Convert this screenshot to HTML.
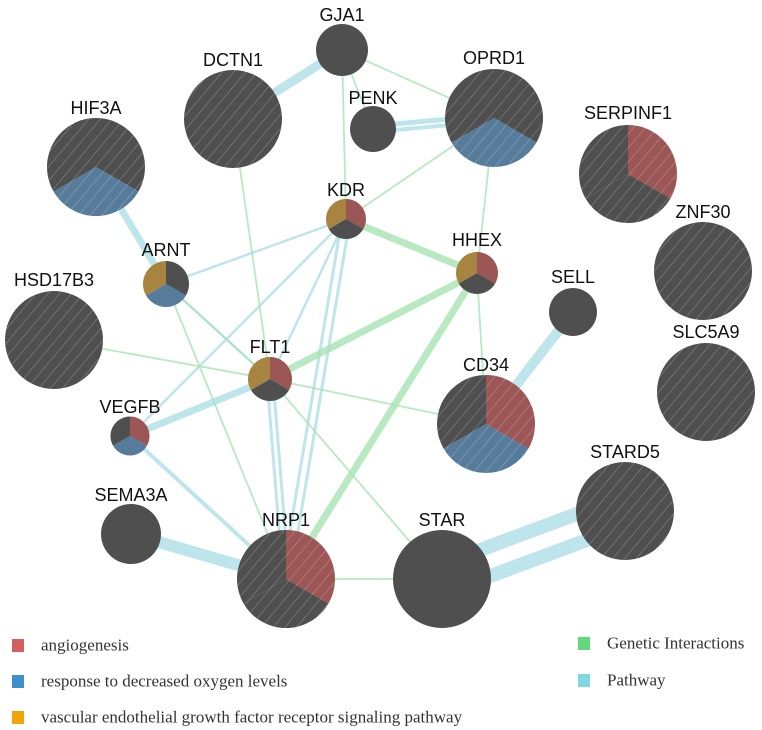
<!DOCTYPE html>
<html><head><meta charset="utf-8"><style>
html,body{margin:0;padding:0;background:#fff;width:762px;height:730px;overflow:hidden}
svg{display:block}
.lbl{font-family:"Liberation Sans",sans-serif;font-size:18px;fill:#111;text-anchor:middle;dominant-baseline:central}
.leg{font-family:"Liberation Serif",serif;font-size:17px;fill:#333;dominant-baseline:central}
</style></head><body>
<svg id="net" width="762" height="730" viewBox="0 0 762 730">
<defs>
<pattern id="hatch" patternUnits="userSpaceOnUse" width="9" height="9" patternTransform="rotate(40)">
<line x1="0" y1="0" x2="0" y2="9" stroke="rgba(255,255,255,0.25)" stroke-width="1.5"/>
</pattern>
</defs>
<g id="edges"></g>
<g id="nodes"></g>
<g id="legend"></g>
</svg>
<script>
const nodeNames=["GJA1","DCTN1","PENK","OPRD1","HIF3A","SERPINF1","KDR","HHEX","ARNT","SELL","ZNF30","HSD17B3","SLC5A9","FLT1","VEGFB","CD34","STARD5","SEMA3A","NRP1","STAR"];
const nodeX=[342,233,373,494,96,628,346,477,166,573,703,54,706,270,130,486,625,131,286,442];
const nodeY=[50,119,129,118,167,174,219,273,284,312,271,340,392,379,436,424,511,534,579,579];
const nodeR=[26,49,23,49,49,49,20,21,23,24,49,49,49,22,19.5,49,49,30,49,49];
const labelY=[15,60,98,58,108,113,190,240,250,277,212,280,332,347,407,365,452,495,520,520];
const hatched=[0,1,0,1,1,1,0,0,0,0,1,1,1,0,0,1,1,0,1,0];
const slices=["ddd","ddd","ddd","dbd","dbd","rdd","rdg","rdg","dbg","ddd","ddd","ddd","ddd","rdg","rbd","rbd","ddd","ddd","rdd","ddd"];
const edgeFrom=["GJA1","PENK","PENK","HIF3A","ARNT","ARNT","KDR","KDR","KDR","KDR","FLT1","FLT1","FLT1","VEGFB","SEMA3A","SELL","STAR","STAR",
 "GJA1","GJA1","GJA1","DCTN1","OPRD1","OPRD1","KDR","HHEX","HHEX","HHEX","ARNT","ARNT","HSD17B3","FLT1","FLT1","NRP1"];
const edgeTo=["DCTN1","OPRD1","OPRD1","ARNT","KDR","FLT1","VEGFB","NRP1","NRP1","FLT1","VEGFB","NRP1","NRP1","NRP1","NRP1","CD34","STARD5","STARD5",
 "KDR","OPRD1","PENK","FLT1","KDR","HHEX","HHEX","FLT1","NRP1","CD34","FLT1","NRP1","FLT1","STAR","CD34","STAR"];
const edgeType=["p","p","p","p","p","p","p","p","p","p","p","p","p","p","p","p","p","p",
 "g","g","g","g","g","g","g","g","g","g","g","g","g","g","g","g"];
const edgeW=[9,5,4,7,2.5,2.5,2.5,3,3,2.5,7,3,3,4,12,10,14,14,
 1.8,1.8,1.8,1.8,1.8,1.8,7,7,7,1.8,1.8,1.8,1.8,1.8,1.8,1.8];
const edgeOff=[0,-3,3,0,0,0,0,-4,4,0,0,-3,3,0,0,0,-14,14,0,0,0,0,0,0,0,0,0,0,0,0,0,0,0,0];
const legendCats=["angiogenesis","response to decreased oxygen levels","vascular endothelial growth factor receptor signaling pathway"];
const legendCatColors=["#d35f5f","#3f8fcc","#f0a30a"];
const legendEdges=["Genetic Interactions","Pathway"];
const legendEdgeColors=["#63d97e","#80d6e2"];

const NS="http://www.w3.org/2000/svg";
const colorMap={d:"#4f4f4f",r:"#9c5656",b:"#567b9b",g:"#a7843f"};
function mk(t,a){const e=document.createElementNS(NS,t);for(const k in a)e.setAttribute(k,a[k]);return e;}
const idx=n=>nodeNames.indexOf(n);
const eg=document.getElementById('edges');
edgeFrom.forEach((f,i)=>{
  const a=idx(f),b=idx(edgeTo[i]);
  let x1=nodeX[a],y1=nodeY[a],x2=nodeX[b],y2=nodeY[b];
  const dx=x2-x1,dy=y2-y1,L=Math.hypot(dx,dy);const nx=-dy/L*edgeOff[i],ny=dx/L*edgeOff[i];
  const ln=mk('line',{x1:x1+nx,y1:y1+ny,x2:x2+nx,y2:y2+ny,stroke:edgeType[i]=="p"?"#a9dce6":"#a6e3b2","stroke-width":edgeW[i],"stroke-opacity":edgeType[i]=="p"?0.75:0.8,"stroke-linecap":"butt"});
  
  
  eg.appendChild(ln);
});
const ng=document.getElementById('nodes');
nodeNames.forEach((n,i)=>{
  const g=mk('g',{});
  
  
  const cx=nodeX[i],cy=nodeY[i],r=nodeR[i],s=slices[i];
  if(s==="ddd"){g.appendChild(mk('circle',{cx,cy,r,fill:colorMap.d}));}
  else{
    for(let k=0;k<3;k++){
      const a0=(k*120-90)*Math.PI/180,a1=((k+1)*120-90)*Math.PI/180;
      const p=`M${cx},${cy}L${cx+r*Math.cos(a0)},${cy+r*Math.sin(a0)}A${r},${r} 0 0 1 ${cx+r*Math.cos(a1)},${cy+r*Math.sin(a1)}Z`;
      g.appendChild(mk('path',{d:p,fill:colorMap[s[k]]}));
    }
  }
  if(hatched[i]) g.appendChild(mk('circle',{cx,cy,r,fill:"url(#hatch)"}));
  const t=mk('text',{x:cx,y:labelY[i],class:'lbl'});t.textContent=n;
  
  
  g.appendChild(t);
  ng.appendChild(g);
});
const lg=document.getElementById('legend');
legendCats.forEach((c,i)=>{
  const y=645+i*36;
  const r=mk('rect',{x:12,y:y-6,width:12,height:13,fill:legendCatColors[i]});
  
  
  lg.appendChild(r);
  const t=mk('text',{x:41,y:y,class:'leg'});t.textContent=c;
  
  
  lg.appendChild(t);
});
legendEdges.forEach((c,i)=>{
  const y=643+i*37;
  const r=mk('rect',{x:578,y:y-6,width:12,height:13,fill:legendEdgeColors[i]});
  
  
  lg.appendChild(r);
  const t=mk('text',{x:607,y:y,class:'leg'});t.textContent=c;
  
  
  lg.appendChild(t);
});
</script>
</body></html>
